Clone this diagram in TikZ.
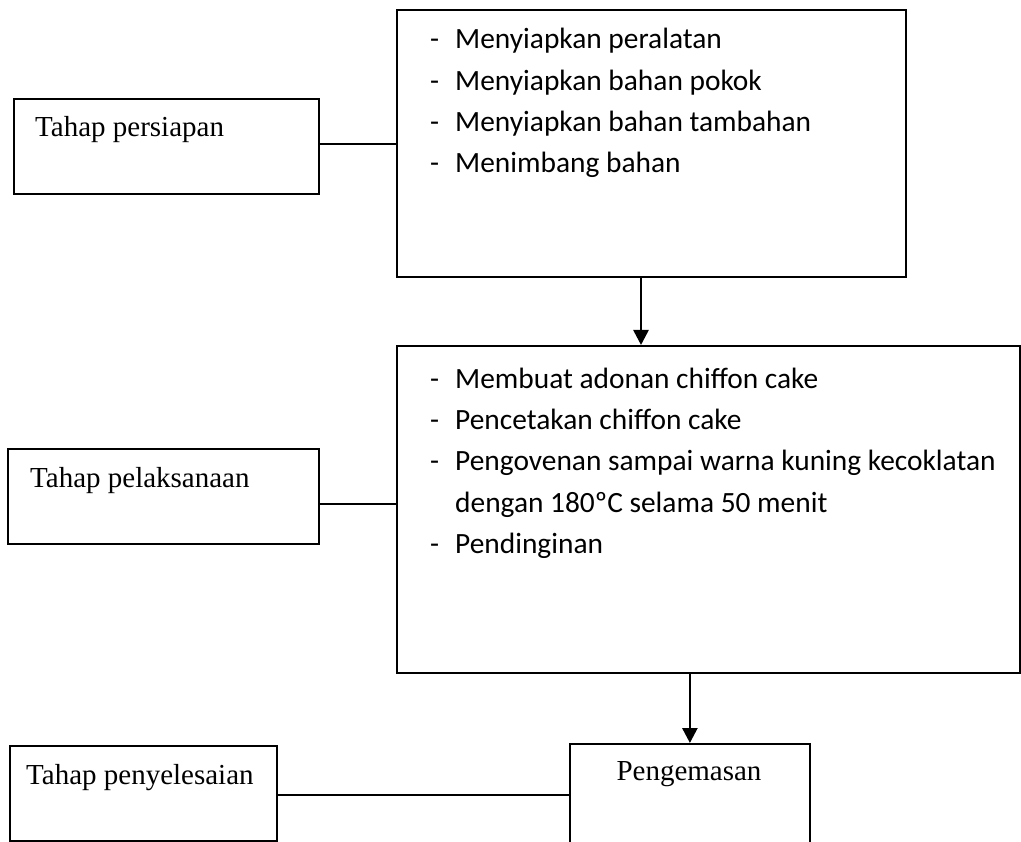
\documentclass[tikz,border=0pt]{standalone}
\usepackage{fontspec}
\setmainfont{Liberation Serif}
\newfontfamily\bodyfont{Carlito}
\usetikzlibrary{arrows.meta,calc}

\tikzset{
  stage/.style={draw=black, line width=1.8pt, rectangle, inner sep=0pt, anchor=north west},
  listbox/.style={stage, line width=2pt},
  stagelabel/.style={anchor=base west, inner sep=0pt, font=\fontsize{29}{35}\selectfont},
  itemdash/.style={anchor=base west, inner sep=0pt, font=\bodyfont\fontsize{29.4}{35}\selectfont},
  itemtext/.style={anchor=base west, inner sep=0pt, font=\bodyfont\fontsize{29.4}{35}\selectfont},
  link/.style={draw=black, line width=1.7pt},
  flow/.style={draw=black, line width=2.6pt, -{Triangle[width=15pt,length=15pt]}}
}

\begin{document}
\begin{tikzpicture}[x=1pt, y=-1pt]
  \useasboundingbox (0,0) rectangle (1021,842);
  \clip (0,0) rectangle (1021,842);

  % left column: stage names
  \node[stage, minimum width=305pt, minimum height=95pt] (prep) at (13,98) {};
  \node[stagelabel] (prepT) at (35,137) {Tahap persiapan};

  \node[stage, minimum width=311pt, minimum height=95pt] (exec) at (7,448) {};
  \node[stagelabel] (execT) at (30,487) {Tahap pelaksanaan};

  \node[stage, minimum width=267pt, minimum height=95pt] (fin) at (9,745) {};
  \node[stagelabel] (finT) at (26,784) {Tahap penyelesaian};

  % right column: activities of each stage
  \node[listbox, minimum width=509pt, minimum height=267pt] (prepList) at (396,9) {};
  \foreach \txt [count=\i] in {Menyiapkan peralatan, Menyiapkan bahan pokok,
      Menyiapkan bahan tambahan, Menimbang bahan} {
    \node[itemdash] (pd\i) at (430,{49+41.3*(\i-1)}) {-};
    \node[itemtext] (pt\i) at (455,{49+41.3*(\i-1)}) {\txt};
  }

  \node[listbox, minimum width=623pt, minimum height=327pt] (execList) at (396,345) {};
  \node[itemdash] (ed1) at (430,389) {-};
  \node[itemtext] (et1) at (455,389) {Membuat adonan chiffon cake};
  \node[itemdash] (ed2) at (430,430) {-};
  \node[itemtext] (et2) at (455,430) {Pencetakan chiffon cake};
  \node[itemdash] (ed3) at (430,471) {-};
  \node[itemtext] (et3) at (455,471) {Pengovenan sampai warna kuning kecoklatan};
  \node[itemtext] (et4) at (455,512) {dengan 180ºC selama 50 menit};
  \node[itemdash] (ed5) at (430,553) {-};
  \node[itemtext] (et5) at (455,553) {Pendinginan};

  \node[stage, minimum width=240pt, minimum height=140pt] (pack) at (569,743) {};
  \node[stagelabel, anchor=base] (packT) at (689,780) {Pengemasan};

  % connectors between stage names and activities
  \coordinate (c1) at (0,144);
  \coordinate (c2) at (0,504);
  \coordinate (c3) at (0,795);
  \draw[link] (prep.east |- c1) -- (prepList.west |- c1);
  \draw[link] (exec.east |- c2) -- (execList.west |- c2);
  \draw[link] (fin.east |- c3) -- (pack.west |- c3);

  % flow arrows between activity boxes
  \coordinate (a1) at (641,0);
  \draw[flow] (prepList.south -| a1) -- (execList.north -| a1);
  \draw[flow] (execList.south -| pack.north) -- (pack.north);
\end{tikzpicture}
\end{document}
